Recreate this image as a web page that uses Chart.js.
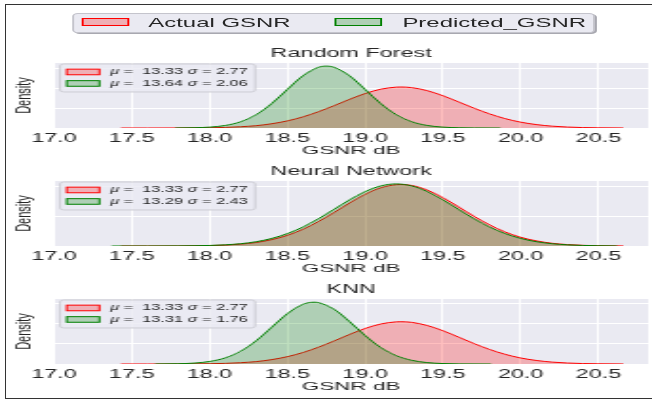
<!DOCTYPE html>
<html>
<head>
<meta charset="utf-8">
<script src="https://cdn.jsdelivr.net/npm/chart.js@4.4.1/dist/chart.umd.min.js"></script>
<style>
  html, body { margin: 0; padding: 0; background: #fff; }
  body { width: 652px; height: 403px; overflow: hidden; position: relative; font-family: "Liberation Sans", Arial, sans-serif; }
  #frame { position: absolute; left: 5px; top: 4px; width: 700px; height: 395px; border: 1.5px solid #333; box-sizing: border-box; }
  /* the figure is stretched sideways, so draw narrow and scale it */
  #stage { position: absolute; left: 0; top: 0; width: 343px; height: 403px; transform: scaleX(1.9009); transform-origin: 0 0; }
  #stage canvas { position: absolute; left: 0; }
  #legend { position: absolute; left: 38px; top: 13px; width: 274.7px; height: 20px; box-sizing: border-box;
            background: #eaeaf2; border: 1px solid #c4c4cc; border-radius: 3px; box-shadow: 1px 1px 0 #a8a8b0; }
  .sw { position: absolute; top: 4px; width: 25px; height: 8px; box-sizing: border-box; }
  .lt { position: absolute; top: -1px; line-height: 20px; font-size: 12.6px; color: #262626; white-space: nowrap; }
</style>
</head>
<body>
<div id="frame"></div>
<div id="stage">
  <div id="legend">
    <div class="sw" id="sw0" style="left:3.7px"></div><div class="lt" id="lt0" style="left:39px"></div>
    <div class="sw" id="sw1" style="left:137px"></div><div class="lt" id="lt1" style="left:172.7px"></div>
  </div>
  <canvas id="c0" width="343" height="123" style="top:35px"></canvas>
  <canvas id="c1" width="343" height="123" style="top:153px"></canvas>
  <canvas id="c2" width="343" height="123" style="top:271px"></canvas>
</div>
<script>
const seriesNames = ["Actual GSNR", "Predicted_GSNR"];
const panelTitles = ["Random Forest", "Neural Network", "KNN"];
const actualLabel = "μ =  13.33 σ = 2.77";
const predictedLabels = ["μ =  13.64 σ = 2.06", "μ =  13.29 σ = 2.43", "μ =  13.31 σ = 1.76"];
const xTickValues = [17.0, 17.5, 18.0, 18.5, 19.0, 19.5, 20.0, 20.5];
const yTickValues = [0, 0.5, 1.0, 1.5];
const yMax = [1.65, 1.1, 1.6];

// actual GSNR density (same in every panel)
const actualX = [17.43, 17.6, 17.8, 18.0, 18.1, 18.2, 18.3, 18.4, 18.5, 18.6, 18.7, 18.8, 18.9, 19.0, 19.1, 19.2, 19.23,
                 19.3, 19.4, 19.5, 19.6, 19.7, 19.8, 19.9, 20.0, 20.1, 20.2, 20.3, 20.4, 20.5, 20.66];
const actualY = [0.000, 0.000, 0.001, 0.007, 0.015, 0.032, 0.059, 0.108, 0.180, 0.282, 0.413, 0.566, 0.727, 0.874, 0.984, 1.037, 1.040,
                 1.024, 0.946, 0.819, 0.663, 0.503, 0.358, 0.238, 0.148, 0.087, 0.047, 0.024, 0.011, 0.005, 0.001];

// predicted GSNR densities
const rfX = [17.78, 17.9, 18.0, 18.1, 18.2, 18.3, 18.4, 18.5, 18.6, 18.7, 18.75, 18.8, 18.9, 19.0, 19.1, 19.2, 19.3, 19.4, 19.5, 19.6, 19.7, 19.87];
const rfY = [0.001, 0.007, 0.022, 0.064, 0.159, 0.339, 0.621, 0.978, 1.324, 1.540, 1.570, 1.540, 1.324, 0.978, 0.621, 0.339, 0.159, 0.064, 0.022, 0.007, 0.002, 0.000];

const nnX = [17.37, 17.6, 17.8, 18.0, 18.1, 18.2, 18.3, 18.4, 18.5, 18.6, 18.7, 18.8, 18.9, 19.0, 19.1, 19.2,
             19.3, 19.4, 19.5, 19.6, 19.7, 19.8, 19.9, 20.0, 20.1, 20.2, 20.3, 20.4, 20.5, 20.62];
const nnY = [0.000, 0.000, 0.002, 0.009, 0.020, 0.039, 0.073, 0.128, 0.210, 0.321, 0.461, 0.620, 0.781, 0.920, 1.016, 1.050,
             1.016, 0.920, 0.781, 0.620, 0.461, 0.321, 0.210, 0.128, 0.073, 0.039, 0.020, 0.009, 0.004, 0.001];

const knnX = [17.65, 17.8, 17.9, 18.0, 18.1, 18.2, 18.3, 18.4, 18.5, 18.6, 18.67, 18.7, 18.8, 18.9, 19.0, 19.1, 19.2, 19.3, 19.4, 19.5, 19.6, 19.81];
const knnY = [0.001, 0.007, 0.022, 0.062, 0.150, 0.315, 0.573, 0.905, 1.237, 1.468, 1.520, 1.510, 1.348, 1.043, 0.700, 0.407, 0.206, 0.090, 0.034, 0.011, 0.003, 0.000];

const predictedX = [rfX, nnX, knnX];
const predictedY = [rfY, nnY, knnY];

const FONT = '"Liberation Sans", Arial, sans-serif';
const TEXT = "#262626";
const RED = "#ff0000", RED_FILL = "rgba(255,0,0,0.25)";
const GREEN = "#008000", GREEN_FILL = "rgba(0,128,0,0.25)";

// top legend (html)
document.getElementById("lt0").textContent = seriesNames[0];
document.getElementById("lt1").textContent = seriesNames[1];
const sw0 = document.getElementById("sw0");
sw0.style.background = RED_FILL; sw0.style.border = "1px solid " + RED;
const sw1 = document.getElementById("sw1");
sw1.style.background = GREEN_FILL; sw1.style.border = "1px solid " + GREEN;

const plotBg = {
  id: "plotBg",
  beforeDraw(chart) {
    const { ctx, chartArea: a } = chart;
    ctx.save();
    ctx.fillStyle = "#eaeaf2";
    ctx.fillRect(a.left, a.top, a.right - a.left, a.bottom - a.top);
    ctx.restore();
  }
};

// greek letters in italic, like matplotlib mathtext
function drawLabel(ctx, text, x, y) {
  for (const ch of text) {
    ctx.font = (ch === "μ" || ch === "σ" ? "italic " : "") + "8.6px " + FONT;
    ctx.fillText(ch, x, y);
    x += ctx.measureText(ch).width;
  }
}

const innerLegend = {
  id: "innerLegend",
  afterDatasetsDraw(chart, args, opts) {
    const { ctx, chartArea: a } = chart;
    const x0 = a.left + 3.2, y0 = a.top + 1, w = 102.6, h = 28;
    ctx.save();
    ctx.fillStyle = "rgba(234,234,242,0.8)";
    ctx.strokeStyle = "#cdcdd4";
    ctx.lineWidth = 1;
    ctx.beginPath();
    ctx.roundRect(x0, y0, w, h, 2);
    ctx.fill();
    ctx.stroke();
    chart.data.datasets.forEach((ds, k) => {
      const cy = y0 + 8 + k * 11.5;
      ctx.fillStyle = ds.backgroundColor;
      ctx.fillRect(x0 + 3.5, cy - 2.8, 17.2, 5.6);
      ctx.strokeStyle = ds.borderColor;
      ctx.strokeRect(x0 + 3.5, cy - 2.8, 17.2, 5.6);
      ctx.fillStyle = TEXT;
      ctx.textBaseline = "middle";
      drawLabel(ctx, opts.labels[k], x0 + 26.3, cy);
    });
    ctx.restore();
  }
};

function toPoints(xs, ys) {
  return xs.map((x, i) => ({ x: x, y: ys[i] }));
}

function makePanel(i) {
  const ctx = document.getElementById("c" + i).getContext("2d");
  new Chart(ctx, {
    type: "line",
    data: {
      datasets: [
        {
          label: seriesNames[0],
          data: toPoints(actualX, actualY),
          borderColor: RED,
          backgroundColor: RED_FILL,
          borderWidth: 1,
          fill: "origin",
          pointRadius: 0,
          cubicInterpolationMode: "monotone",
          order: 2,
        },
        {
          label: seriesNames[1],
          data: toPoints(predictedX[i], predictedY[i]),
          borderColor: GREEN,
          backgroundColor: GREEN_FILL,
          borderWidth: 1,
          fill: "origin",
          pointRadius: 0,
          cubicInterpolationMode: "monotone",
          order: 1,
        },
      ],
    },
    options: {
      responsive: false,
      animation: false,
      events: [],
      layout: { padding: { left: 4, right: 2, top: 0, bottom: 0 } },
      plugins: {
        legend: { display: false },
        tooltip: { enabled: false },
        title: {
          display: true,
          fullSize: false,
          text: panelTitles[i],
          color: TEXT,
          font: { family: FONT, size: 12.3, weight: "normal", lineHeight: 1.2 },
          padding: { top: 11.6, bottom: 1.6 },
        },
        innerLegend: { labels: [actualLabel, predictedLabels[i]] },
      },
      scales: {
        x: {
          type: "linear",
          min: 17.0,
          max: 20.82,
          border: { display: false },
          grid: { color: "#ffffff", lineWidth: 1, drawTicks: false },
          ticks: {
            padding: 3,
            color: TEXT,
            font: { family: FONT, size: 12.3 },
            callback: (v) => Number(v).toFixed(1),
          },
          afterBuildTicks: (s) => { s.ticks = xTickValues.map((v) => ({ value: v })); },
          afterFit: (s) => { s.height = 30; },
          title: { display: true, text: "GSNR dB", color: TEXT, font: { family: FONT, size: 11.8 }, padding: 0 },
        },
        y: {
          min: 0,
          max: yMax[i],
          border: { display: false },
          grid: { color: "#ffffff", lineWidth: 1, drawTicks: false },
          ticks: { display: false },
          afterBuildTicks: (s) => { s.ticks = yTickValues.filter((v) => v <= yMax[i]).map((v) => ({ value: v })); },
          afterFit: (s) => { s.width = 24.4; },
          title: { display: true, text: "Density", color: TEXT, font: { family: FONT, size: 11 }, padding: { top: 2.1, bottom: 0 } },
        },
      },
    },
    plugins: [plotBg, innerLegend],
  });
}

[0, 1, 2].forEach(makePanel);
</script>
</body>
</html>
